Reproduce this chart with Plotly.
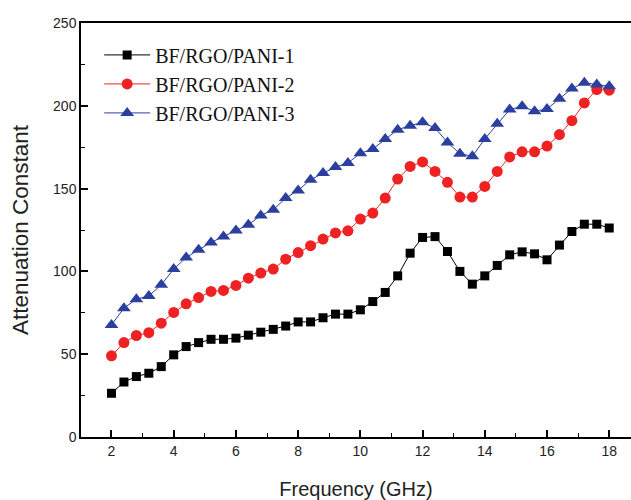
import plotly.graph_objects as go

freq = [round(2 + 0.4 * i, 1) for i in range(41)]

pani1 = [26.4, 33.2, 36.5, 38.5, 42.5, 49.6, 54.6, 57.0, 59.0, 59.0,
         59.7, 61.5, 63.3, 65.0, 67.0, 69.5, 69.5, 72.0, 74.2, 74.2,
         76.8, 81.8, 87.3, 97.3, 111.0, 120.5, 121.0, 112.0, 100.0, 92.3,
         97.3, 103.6, 110.0, 111.8, 110.6, 107.0, 115.9, 124.1, 128.5, 128.5,
         126.2]
pani2 = [49.0, 57.0, 61.3, 63.0, 68.7, 75.2, 80.4, 84.2, 87.9, 88.5,
         91.5, 95.9, 99.0, 101.4, 107.4, 111.4, 115.5, 119.5, 123.2, 124.5,
         131.6, 135.2, 144.3, 155.8, 163.4, 166.1, 160.4, 153.8, 144.9, 144.9,
         151.3, 160.4, 169.1, 172.2, 172.2, 175.7, 182.6, 191.0, 201.7, 209.8,
         209.4]
pani3 = [67.7, 77.8, 83.2, 85.2, 91.9, 101.4, 108.4, 113.1, 117.5, 121.1,
         124.7, 128.2, 133.8, 137.2, 144.3, 148.9, 155.4, 159.4, 163.0, 165.5,
         171.3, 173.9, 180.0, 185.6, 188.0, 190.0, 186.6, 177.9, 171.1, 169.5,
         180.0, 189.2, 197.7, 199.7, 196.7, 198.1, 204.2, 210.4, 213.9, 212.8,
         211.8]

names = ["BF/RGO/PANI-1", "BF/RGO/PANI-2", "BF/RGO/PANI-3"]
colors = ["#000000", "#ee2222", "#2b3f9e"]
symbols = ["square", "circle", "triangle-up"]
sizes = [9, 11, 12]

fig = go.Figure()
for ys, n, c, s, sz in zip([pani1, pani2, pani3], names, colors, symbols, sizes):
    fig.add_trace(go.Scatter(
        x=freq, y=ys, name=n, mode="lines+markers",
        line=dict(color=c, width=1),
        marker=dict(symbol=s, size=sz, color=c),
    ))

axis_common = dict(
    showline=True, linecolor="black", linewidth=1.5, mirror=True,
    ticks="inside", ticklen=7, tickwidth=1.5, tickcolor="black",
    showgrid=False, zeroline=False, automargin=False,
    tickfont=dict(family="Liberation Sans, Arial", size=14, color="#222"),
    minor=dict(ticks="inside", ticklen=4, tickwidth=1, tickcolor="black"),
)

fig.update_xaxes(
    range=[1.02, 18.7], tickmode="array", tickvals=list(range(2, 19, 2)),
    minor_dtick=1, minor_tick0=1,
    title=dict(text="Frequency (GHz)", font=dict(family="Liberation Sans, Arial", size=20, color="#222"), standoff=24),
    **axis_common,
)
fig.update_yaxes(
    range=[0, 250], tickmode="array", tickvals=[0, 50, 100, 150, 200, 250],
    minor_dtick=25,
    title=dict(text="Attenuation Constant", font=dict(family="Liberation Sans, Arial", size=22.5, color="#222"), standoff=18),
    **axis_common,
)

fig.update_layout(
    width=631, height=500,
    margin=dict(l=81, r=0, t=23, b=63),
    paper_bgcolor="white", plot_bgcolor="white",
    legend=dict(
        x=0.033, y=0.97, xanchor="left", yanchor="top",
        font=dict(family="Liberation Serif, Times New Roman", size=20, color="#111"),
        bgcolor="rgba(0,0,0,0)", tracegroupgap=0, itemwidth=46,
    ),
)

fig.write_html("out.html", config={"displayModeBar": False},
               post_script="document.body.style.margin='0';document.body.style.overflow='hidden';")
